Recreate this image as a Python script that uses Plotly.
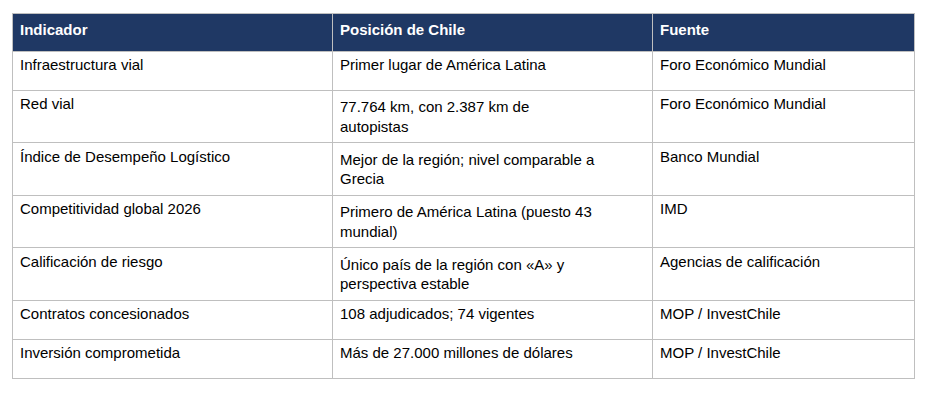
import plotly.graph_objects as go

headers = ["Indicador", "Posición de Chile", "Fuente"]
indicadores = [
    "Infraestructura vial",
    "Red vial",
    "Índice de Desempeño Logístico",
    "Competitividad global 2026",
    "Calificación de riesgo",
    "Contratos concesionados",
    "Inversión comprometida",
]
posiciones = [
    "Primer lugar de América Latina",
    "77.764 km, con 2.387 km de<br>autopistas",
    "Mejor de la región; nivel comparable a<br>Grecia",
    "Primero de América Latina (puesto 43<br>mundial)",
    "Único país de la región con «A» y<br>perspectiva estable",
    "108 adjudicados; 74 vigentes",
    "Más de 27.000 millones de dólares",
]
fuentes = [
    "Foro Económico Mundial",
    "Foro Económico Mundial",
    "Banco Mundial",
    "IMD",
    "Agencias de calificación",
    "MOP / InvestChile",
    "MOP / InvestChile",
]

font = "Liberation Sans, Arial, sans-serif"

fig = go.Figure(go.Table(
    columnwidth=[320, 320, 262],
    header=dict(
        values=["<b>%s</b>" % h for h in headers],
        fill_color="#1F3864",
        line_color="#BFBFBF",
        align="left",
        font=dict(color="white", size=15, family=font),
        height=38,
    ),
    cells=dict(
        values=[indicadores, posiciones, fuentes],
        fill_color="white",
        line_color="#BFBFBF",
        align="left",
        font=dict(color="black", size=15, family=font),
        height=39,
    ),
    # the page body has an 8px margin, so the domain is shifted to compensate
    domain=dict(x=[4 / 926, 906 / 926], y=[0, 1 - 5 / 419]),
))

fig.update_layout(width=926, height=419, margin=dict(l=0, r=0, t=0, b=0),
                  paper_bgcolor="white")
fig.write_html("out.html")
